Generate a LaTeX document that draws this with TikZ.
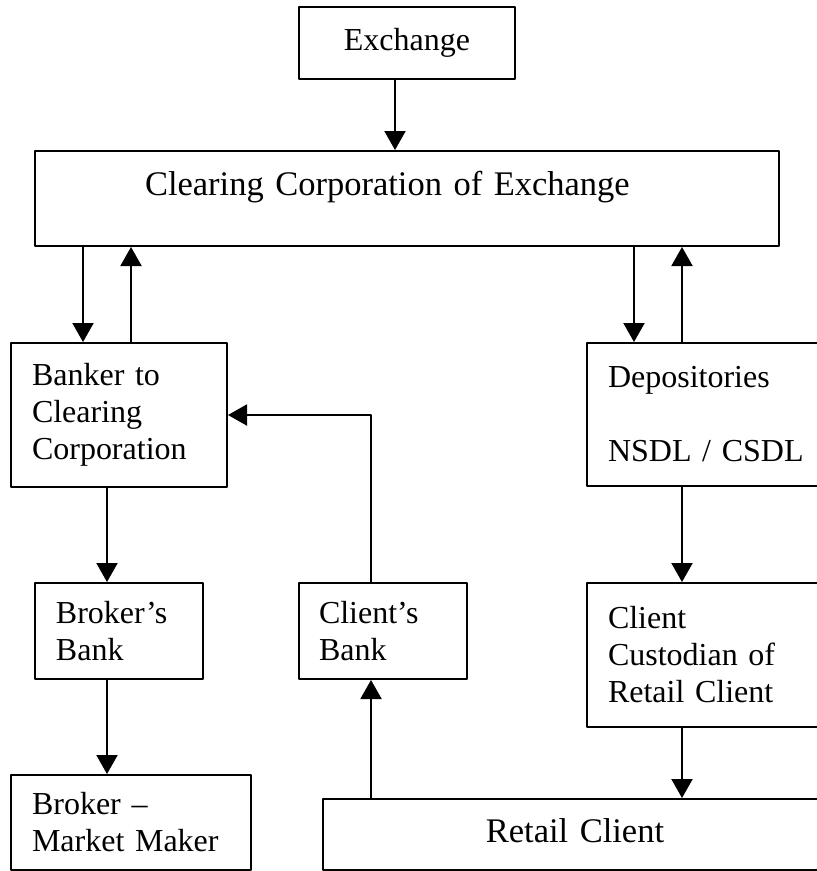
\documentclass[tikz,border=0pt]{standalone}
\usepackage{fontspec}
\setmainfont{Liberation Serif}
\usetikzlibrary{arrows.meta}
\tikzset{
  every picture/.style={line join=round, >={Triangle[width=21pt,length=19pt]}},
  box/.style={draw, line width=2pt, rectangle, align=left, inner ysep=0pt, font=\fontsize{32}{37}\selectfont},
  bigbox/.style={box, font=\fontsize{34.5}{40}\selectfont},
  flow/.style={->, line width=2pt},
}

\begin{document}
\begin{tikzpicture}[x=1pt,y=-1pt]
\useasboundingbox (0,0) rectangle (817,871);
\node[box,align=center,text width=176pt,inner xsep=20pt,text height=43pt,text depth=29pt](ex) at (407,43){Exchange};
\node[bigbox,text width=524pt,inner xsep=110pt,text height=44pt,text depth=51pt](ccx) at (407,198.5){Clearing Corporation of Exchange};
\node[box,text width=174pt,inner xsep=21pt,minimum height=144pt](bcc) at (119,415){Banker to\\Clearing\\Corporation};
\node[box,text width=208pt,inner xsep=21pt,minimum height=143pt](dep) at (712,414.5){Depositories\\[37pt]NSDL / CSDL};
\node[box,text width=126pt,inner xsep=21pt,minimum height=96pt](bb) at (119,631){Broker’s\\Bank};
\node[box,text width=128pt,inner xsep=20pt,minimum height=96pt](cb) at (383,631){Client’s\\Bank};
\node[box,text width=208pt,inner xsep=21pt,minimum height=144pt](cust) at (712,655){Client\\Custodian of\\Retail Client};
\node[box,text width=198pt,inner xsep=21pt,minimum height=95pt](bmm) at (131,822.5){Broker –\\Market Maker};
\node[bigbox,align=center,text width=464pt,inner xsep=20pt,text height=43pt,text depth=28pt](rc) at (575,834.5){Retail Client};
\draw[flow] ([xshift=-12pt]ex.south) -- ([xshift=-12pt]ex.south |- ccx.north);
\draw[flow] ([xshift=-36pt]bcc.north |- ccx.south) -- ([xshift=-36pt]bcc.north);
\draw[flow] ([xshift=12pt]bcc.north) -- ([xshift=12pt]bcc.north |- ccx.south);
\draw[flow] ([xshift=48pt]dep.north west |- ccx.south) -- ([xshift=48pt]dep.north west);
\draw[flow] ([xshift=96pt]dep.north west) -- ([xshift=96pt]dep.north west |- ccx.south);
\draw[flow] ([xshift=-12pt]bcc.south) -- ([xshift=-12pt]bb.north);
\draw[flow] ([xshift=-12pt]bb.south) -- ([xshift=-24pt]bmm.north);
\draw[flow] ([xshift=-12pt]cb.north) |- (bcc.east);
\draw[flow] ([xshift=-12pt]cb.south |- rc.north) -- ([xshift=-12pt]cb.south);
\draw[flow] ([xshift=96pt]dep.south west) -- ([xshift=96pt]cust.north west);
\draw[flow] ([xshift=96pt]cust.south west) -- ([xshift=96pt]cust.south west |- rc.north);
\end{tikzpicture}
\end{document}
